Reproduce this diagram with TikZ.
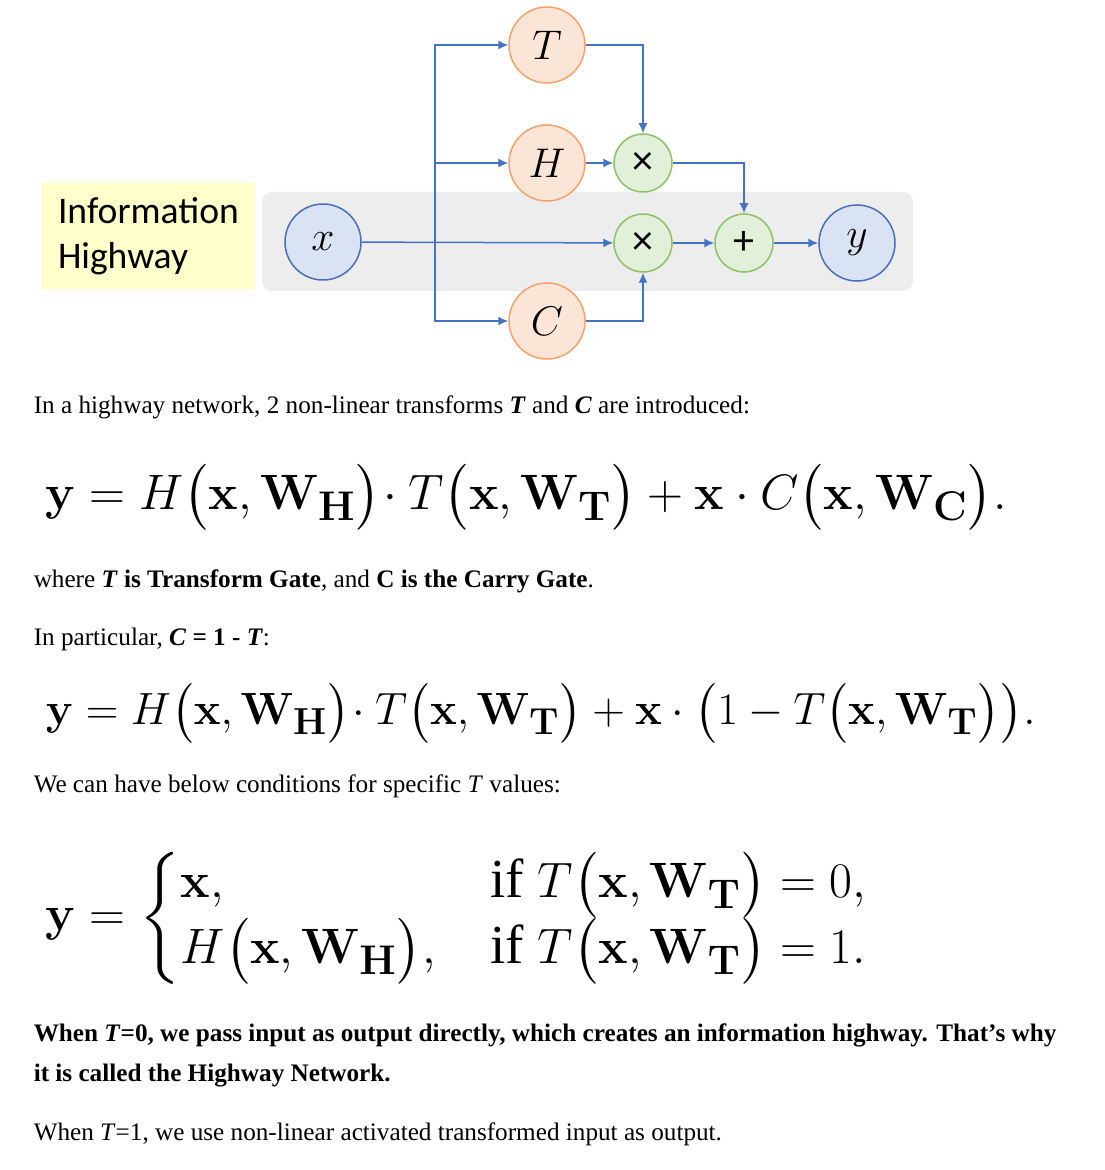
\documentclass[tikz,border=0pt]{standalone}
\usepackage{amsmath, amssymb}
\usepackage{graphicx}
\usepackage[no-math]{fontspec}
\setmainfont{Liberation Serif}
\newfontfamily\calibri{Carlito}
\usetikzlibrary{arrows.meta,positioning}
\definecolor{flowblue}{HTML}{4472C4}
\definecolor{gateline}{HTML}{F4A26B}
\definecolor{gatefill}{HTML}{FBE5D6}
\definecolor{opline}{HTML}{8CC168}
\definecolor{opfill}{HTML}{E2F0D9}
\definecolor{ioline}{HTML}{4A6FB5}
\definecolor{iofill}{HTML}{DAE3F3}
\definecolor{roadgray}{HTML}{EDEDED}
\definecolor{notefill}{HTML}{FFFFCC}
\newcommand{\xW}[1]{\bigl(\mathbf{x},\mathbf{W}_{\mathbf{#1}}\bigr)}

\begin{document}
\begin{tikzpicture}[x=0.5pt,y=-0.5pt,line width=0.75pt,
    gate/.style={circle,draw=gateline,fill=gatefill,minimum size=38pt,inner sep=0pt,font=\fontsize{19.5}{19.5}\selectfont},
    op/.style={circle,draw=opline,fill=opfill,minimum size=29pt,inner sep=0pt,font=\calibri\fontsize{21}{21}\selectfont},
    io/.style={circle,draw=ioline,fill=iofill,minimum size=38pt,inner sep=0pt,font=\fontsize{19.5}{19.5}\selectfont},
    flow/.style={draw=flowblue,-{Latex[length=5pt,width=4.5pt]}},
    txt/.style={anchor=base west,inner sep=0pt,font=\fontsize{12.6}{14}\selectfont},
    eq/.style={anchor=west,inner sep=0pt,font=\fontsize{27.5}{32}\selectfont}]
        % Frame of the page
        \useasboundingbox (0,0) rectangle (1104,1170);
        % Highway band and note
        \fill[roadgray,rounded corners=5pt] (262,192) rectangle (913,291);
        \node[fill=notefill,minimum width=107pt,minimum height=53pt,text width=90pt,inner xsep=8.5pt,align=left,
              font=\calibri\fontsize{18.8}{22.5}\selectfont] (info) at (148,236) {Information\\Highway};
        % Nodes of the network
        \node[io] (xin) at (323,242) {$x$};
        \node[gate] (T) at (547,45) {$T$};
        \node[gate] (H) at (547,163) {$H$};
        \node[gate] (C) at (547,321) {$C$};
        \node[op] (mulH) at (643,163) {×};
        \node[op] (mulC) at (643,243) {×};
        \node[op] (plus) at (744,243) {+};
        \node[io] (yout) at (857,243) {$y$};
        \coordinate (fork) at (435,242);
        % Connections
        \draw[flow] (fork) |- (T);
        \draw[flow] (fork) |- (H);
        \draw[flow] (fork) |- (C);
        \draw[flow] (xin) -- (mulC);
        \draw[flow] (H) -- (mulH);
        \draw[flow] (T) -| (mulH);
        \draw[flow] (C) -| (mulC);
        \draw[flow] (mulH) -| (plus);
        \draw[flow] (mulC) -- (plus);
        \draw[flow] (plus) -- (yout);
        % Text below the diagram
        \node[txt] (intro) at (33,413) {In a highway network, 2 non-linear transforms \textbf{\textit{T}} and \textbf{\textit{C}} are introduced:};
        \node[eq] (eqone) at (45,497) {$\mathbf{y}=H\xW{H}\!\cdot T\xW{T}+\mathbf{x}\cdot C\xW{C}.$};
        \node[txt] (where) at (33,587) {where \textbf{\textit{T}} \textbf{is Transform Gate}, and \textbf{C is the Carry Gate}.};
        \node[txt] (particular) at (33,645) {In particular, \textbf{\textit{C} = 1 - \textit{T}}:};
        \node[eq] (eqtwo) at (45,713) {\resizebox{495pt}{!}{$\mathbf{y}=H\xW{H}\!\cdot T\xW{T}+\mathbf{x}\cdot\bigl(1-T\xW{T}\bigr).$}};
        \node[txt] (cond) at (33,792) {We can have below conditions for specific \textit{T} values:};
        \node[eq] (eqcases) at (45,918) {$\mathbf{y}=\left\{\renewcommand{\arraystretch}{1}\begin{array}{@{}l@{\quad}l@{}}
              \mathbf{x}, & \text{if } T\xW{T}=0,\\
              H\xW{H}, & \text{if } T\xW{T}=1.
              \end{array}\right.$};
        \node[txt] (whenzero) at (33,1041) {\textbf{When \textit{T}=0, we pass input as output directly, which creates an information highway. That’s why}};
        \node[txt] (whenzerob) at (33,1081) {\textbf{it is called the Highway Network.}};
        \node[txt] (whenone) at (33,1140) {When \textit{T}=1, we use non-linear activated transformed input as output.};
\end{tikzpicture}
\end{document}
